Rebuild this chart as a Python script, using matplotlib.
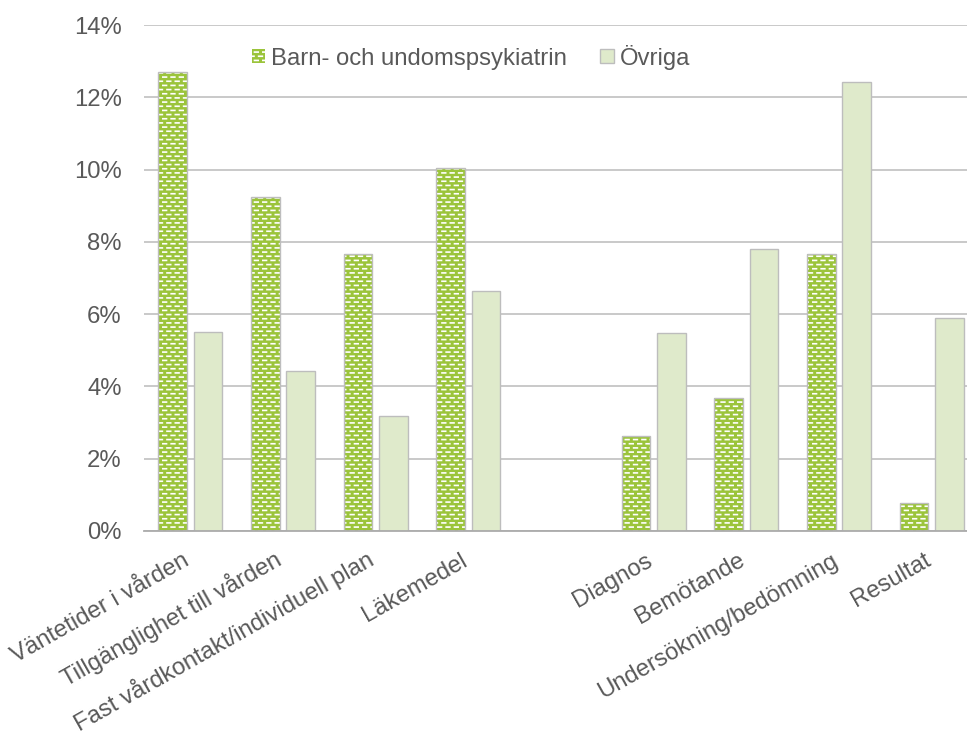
import warnings
import numpy as np
import matplotlib
matplotlib.use('Agg')
import matplotlib.pyplot as plt
import matplotlib.hatch as mhatch

warnings.filterwarnings('ignore')

plt.rcParams['font.family'] = ['Liberation Sans', 'DejaVu Sans']
plt.rcParams['font.size'] = 17.2
plt.rcParams['hatch.linewidth'] = 1.2

# Data (share of complaints, %)
categories = ['Väntetider i vården', 'Tillgänglighet till vården',
              'Fast vårdkontakt/individuell plan', 'Läkemedel', '',
              'Diagnos', 'Bemötande', 'Undersökning/bedömning', 'Resultat']
bup = [12.69, 9.25, 7.67, 10.05, 0, 2.64, 3.69, 7.67, 0.78]
ovriga = [5.51, 4.42, 3.18, 6.65, 0, 5.48, 7.79, 12.43, 5.89]
yticks = [0, 2, 4, 6, 8, 10, 12, 14]

GREEN = '#9BC43B'
LIGHT = '#DFEACB'
EDGE = '#BDBDBD'
TEXT = '#595959'


class BrickDashes(mhatch.HatchPatternBase):
    """Short white dashes in a brick layout, like the Excel pattern fill."""
    rows = 24
    per_row = 12

    def __init__(self, hatch, density):
        n = self.rows * self.per_row if 'b' in hatch else 0
        self.num_lines = n
        self.num_vertices = n * 2

    def set_vertices_and_codes(self, vertices, codes):
        k = 0
        for i in range(self.rows):
            y = (i + 0.5) / self.rows
            shift = 0.5 if i % 2 else 0.0
            for j in range(self.per_row):
                x0 = (j + 0.04 + shift) / self.per_row
                x1 = x0 + 0.44 / self.per_row
                vertices[k] = (x0, y)
                vertices[k + 1] = (x1, y)
                codes[k] = mhatch.Path.MOVETO
                codes[k + 1] = mhatch.Path.LINETO
                k += 2


mhatch._hatch_types.append(BrickDashes)

fig = plt.figure(figsize=(9.67, 7.31), dpi=100)
ax = fig.add_axes([0.1489, 0.2736, 0.8625, 0.6922])

x = np.arange(len(categories))
w = 0.31
off = 0.19

ax.bar(x - off, bup, w, color=GREEN, edgecolor='white', linewidth=0,
       hatch='b', label='Barn- och undomspsykiatrin')
ax.bar(x - off, bup, w, fill=False, edgecolor=EDGE, linewidth=1.0)
ax.bar(x + off, ovriga, w, color=LIGHT, edgecolor=EDGE, linewidth=1.0,
       label='Övriga')

ax.set_xlim(-0.5, len(categories) - 0.5)
ax.set_ylim(0, 14)
ax.set_yticks(yticks)
ax.set_yticklabels([f'{v}%' for v in yticks])
ax.yaxis.grid(True, color='#C0C0C0', linewidth=1.2)
ax.set_axisbelow(True)

ax.set_xticks(x)
ax.set_xticklabels(categories, rotation=29.5, ha='right', va='baseline',
                   rotation_mode='anchor')
ax.tick_params(axis='x', length=0, pad=24, colors=TEXT)
ax.tick_params(axis='y', length=0, pad=16, colors=TEXT)

for s in ['top', 'right', 'left']:
    ax.spines[s].set_visible(False)
ax.spines['bottom'].set_color('#ABABAB')
ax.spines['bottom'].set_linewidth(1.3)

fig.legend(loc='center', bbox_to_anchor=(471 / 967, 1 - 57 / 731), ncol=2,
           frameon=False, handlelength=0.55, handleheight=0.55,
           handletextpad=0.25, columnspacing=1.4, labelcolor=TEXT)

fig.savefig('out.png', dpi=100, facecolor='white')
